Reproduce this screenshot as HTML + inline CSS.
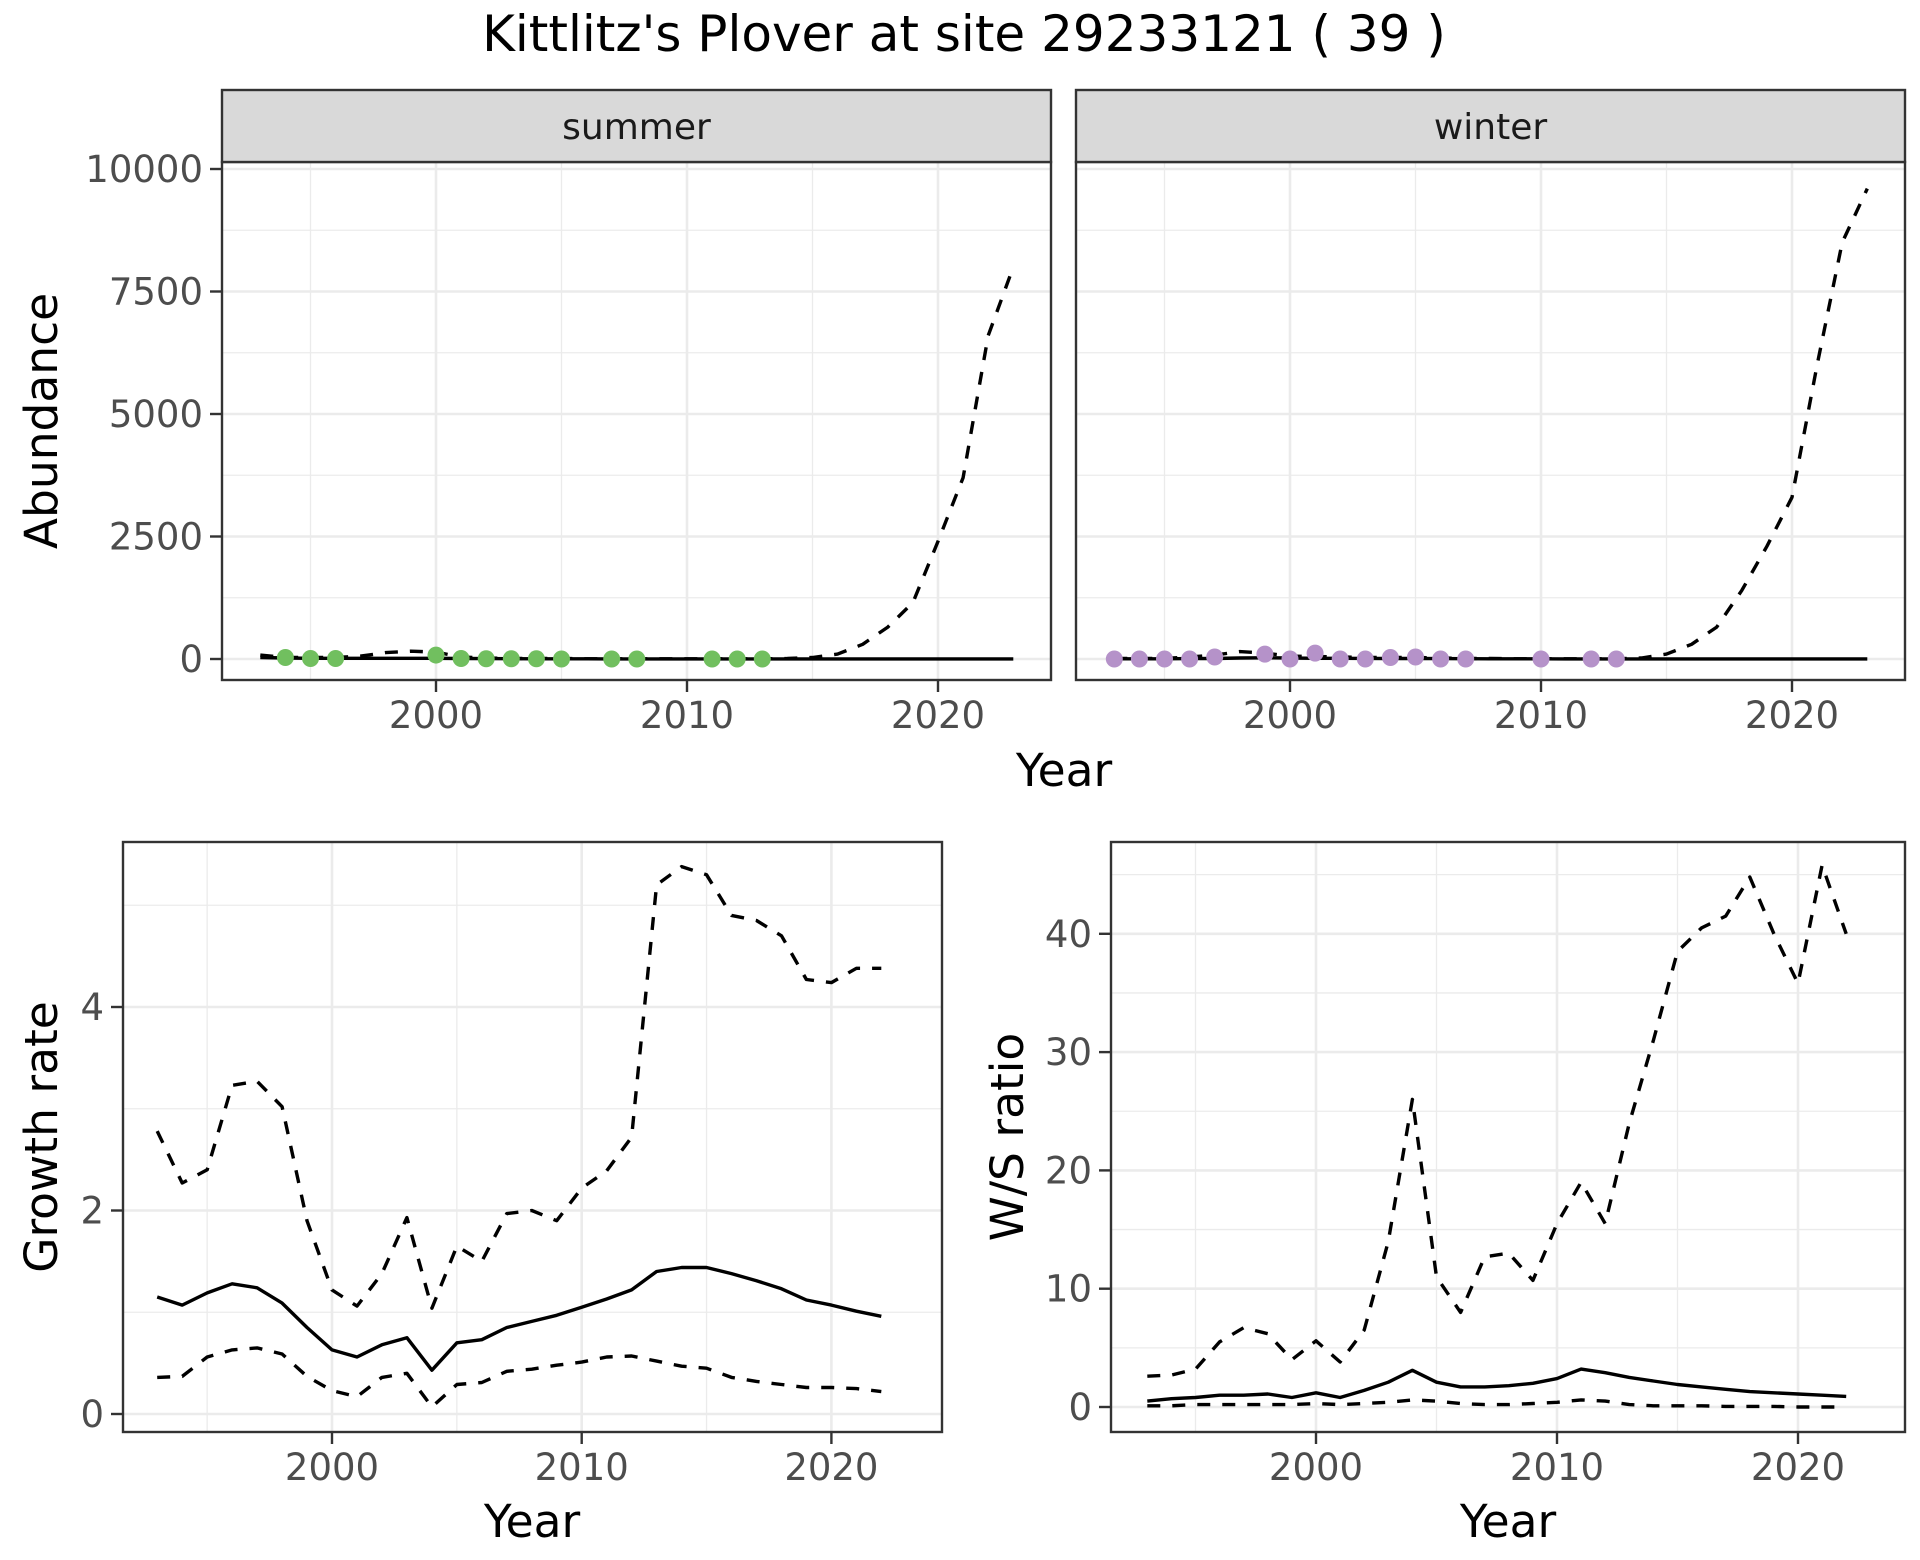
<!DOCTYPE html>
<html><head><meta charset="utf-8"><style>
html,body{margin:0;padding:0;background:#fff}
svg{display:block;font-family:"DejaVu Sans","Liberation Sans",sans-serif}
</style></head><body>
<svg id="chart" width="1920" height="1560" viewBox="0 0 1920 1560" xmlns="http://www.w3.org/2000/svg">
<text x="964" y="51" font-size="50" text-anchor="middle" fill="#000">Kittlitz's Plover at site 29233121 ( 39 )</text>
</svg>
<script>
const years30 = [1993,1994,1995,1996,1997,1998,1999,2000,2001,2002,2003,2004,2005,2006,2007,2008,2009,2010,2011,2012,2013,2014,2015,2016,2017,2018,2019,2020,2021,2022];
const abundYears = [1993,1994,1995,1996,1997,1998,1999,2000,2001,2002,2003,2004,2005,2006,2007,2008,2009,2010,2011,2012,2013,2014,2015,2016,2017,2018,2019,2020,2021,2022,2023];
const summerFit = [30,20,15,15,15,15,15,15,10,8,6,5,5,4,3,3,2,2,2,2,2,2,2,2,2,2,3,3,3,3,3];
const summerUpper = [80,30,30,30,60,130,160,140,40,20,10,10,10,5,5,5,5,5,5,5,5,10,30,100,300,650,1150,2400,3700,6600,8000];
const summerObsYears = [1994,1995,1996,2000,2001,2002,2003,2004,2005,2007,2008,2011,2012,2013];
const summerObs = [30,10,10,80,10,5,5,5,0,0,0,0,0,0];
const winterFit = [5,5,5,8,10,20,25,20,15,15,12,10,10,8,6,5,4,4,3,3,3,3,3,3,3,3,3,3,3,3,3];
const winterUpper = [10,10,10,40,80,150,120,60,50,40,30,30,30,20,10,10,5,5,5,5,5,20,100,300,650,1400,2300,3300,6000,8500,9600];
const winterObsYears = [1993,1994,1995,1996,1997,1999,2000,2001,2002,2003,2004,2005,2006,2007,2010,2012,2013];
const winterObs = [0,0,0,0,40,100,0,120,0,0,30,40,0,0,0,0,0];
const growthFit = [1.15,1.07,1.19,1.28,1.24,1.09,0.85,0.63,0.56,0.68,0.75,0.43,0.70,0.73,0.85,0.91,0.97,1.05,1.13,1.22,1.40,1.44,1.44,1.38,1.31,1.23,1.12,1.07,1.01,0.96];
const growthUpper = [2.78,2.27,2.40,3.23,3.27,3.02,1.90,1.22,1.06,1.38,1.93,1.04,1.65,1.50,1.97,2.00,1.90,2.22,2.39,2.72,5.20,5.38,5.30,4.90,4.85,4.70,4.27,4.24,4.38,4.38];
const growthLower = [0.36,0.37,0.56,0.63,0.65,0.59,0.37,0.23,0.17,0.36,0.40,0.07,0.29,0.31,0.42,0.44,0.48,0.51,0.56,0.57,0.52,0.47,0.45,0.36,0.32,0.29,0.26,0.26,0.25,0.22];
const ratioFit = [0.5,0.7,0.8,1.0,1.0,1.1,0.8,1.2,0.8,1.4,2.1,3.1,2.1,1.7,1.7,1.8,2.0,2.4,3.2,2.9,2.5,2.2,1.9,1.7,1.5,1.3,1.2,1.1,1.0,0.9];
const ratioUpper = [2.6,2.7,3.2,5.5,6.7,6.2,4.0,5.6,3.8,6.5,14,26,11,8,12.7,13,10.7,15.5,19,15.5,24,31,38.5,40.5,41.5,44.8,40,35.8,45.8,40];
const ratioLower = [0.1,0.1,0.2,0.2,0.2,0.2,0.2,0.3,0.2,0.3,0.4,0.6,0.5,0.3,0.2,0.2,0.3,0.4,0.6,0.5,0.2,0.1,0.1,0.1,0.05,0.05,0.05,0,0,0];
const xTicks = [2000,2010,2020];
const xMinor = [1995,2005,2015];
const abundTicks = [0,2500,5000,7500,10000];
const abundMinor = [1250,3750,6250,8750];
const growthTicks = [0,2,4];
const growthMinor = [1,3,5];
const ratioTicks = [0,10,20,30,40];
const ratioMinor = [5,15,25,35,45];

const NS='http://www.w3.org/2000/svg';
const svg=document.getElementById('chart');
function mk(tag,attrs,parent){const e=document.createElementNS(NS,tag);for(const k in attrs)e.setAttribute(k,attrs[k]);(parent||svg).appendChild(e);return e;}

function panel(name,L,R,T,B,x0,xpx,y0,ypx,yTicks,yMin,showY){
  const xs=v=>x0+(v-2000)*xpx, ys=v=>y0-v*ypx;
  const g=mk('g',{});
  
  
  const cl='c'+name; const cp=mk('clipPath',{id:cl},g); mk('rect',{x:L,y:T,width:R-L,height:B-T},cp);
  xMinor.forEach(v=>{const x=xs(v);if(x>L&&x<R){const l=mk('line',{x1:x,x2:x,y1:T,y2:B,stroke:'#ebebeb','stroke-width':1.3},g);}});
  yMin.forEach(v=>{const y=ys(v);if(y>T&&y<B){const l=mk('line',{x1:L,x2:R,y1:y,y2:y,stroke:'#ebebeb','stroke-width':1.3},g);}});
  xTicks.forEach(v=>{const x=xs(v);const l=mk('line',{x1:x,x2:x,y1:T,y2:B,stroke:'#ebebeb','stroke-width':2.6},g);
    const t=mk('line',{x1:x,x2:x,y1:B,y2:B+12,stroke:'#333','stroke-width':2.4},g);
    const tx=mk('text',{x:x,y:B+48,'font-size':37,'text-anchor':'middle',fill:'#4d4d4d'},g);tx.textContent=v;});
  yTicks.forEach(v=>{const y=ys(v);const l=mk('line',{x1:L,x2:R,y1:y,y2:y,stroke:'#ebebeb','stroke-width':2.6},g);
    if(showY){const t=mk('line',{x1:L-12,x2:L,y1:y,y2:y,stroke:'#333','stroke-width':2.4},g);
    const tx=mk('text',{x:L-19,y:y+13,'font-size':37,'text-anchor':'end',fill:'#4d4d4d'},g);tx.textContent=v;}});
  const dg=mk('g',{'clip-path':'url(#'+cl+')'},g);
  return {g,dg,xs,ys,L,R,T,B};
}
function line(p,xsArr,ys,dashed,name){
  const d=xsArr.map((x,i)=>(i?'L':'M')+p.xs(x).toFixed(1)+','+p.ys(ys[i]).toFixed(1)).join('');
  const a={d:d,fill:'none',stroke:'#000','stroke-width':3.4,'stroke-linejoin':'round'};
  if(dashed)a['stroke-dasharray']='13,12';
  const e=mk('path',a,p.dg);
  
  
}
function points(p,xsArr,ys,col,name){
  xsArr.forEach((x,i)=>{const c=mk('circle',{cx:p.xs(x),cy:p.ys(ys[i]),r:8.5,fill:col},p.dg);
    
    });
}
function border(p){const r=mk('rect',{x:p.L,y:p.T,width:p.R-p.L,height:p.B-p.T,fill:'none',stroke:'#333','stroke-width':2.4},p.g);}
function strip(L,R,label,name){const r=mk('rect',{x:L,y:90,width:R-L,height:72,fill:'#d9d9d9',stroke:'#333','stroke-width':2.4});
  const t=mk('text',{x:(L+R)/2,y:139,'font-size':36,'text-anchor':'middle',fill:'#1a1a1a'});t.textContent=label;}
function title(x,y,txt,rot,name){const t=mk('text',{x:x,y:y,'font-size':45.5,'text-anchor':'middle',fill:'#000',transform:rot?`rotate(-90 ${x} ${y})`:''});t.textContent=txt;}

const p1=panel('summer',222,1051,162,680,436,25.1,659,0.049,abundTicks,abundMinor,true);
line(p1,abundYears,summerUpper,true,'summer-upper-line');
line(p1,abundYears,summerFit,false,'summer-fit-line');
points(p1,summerObsYears,summerObs,'#71bf5f','summer-point');
border(p1); strip(222,1051,'summer','summer-strip');
const p2=panel('winter',1076,1905,162,680,1290,25.1,659,0.049,abundTicks,abundMinor,false);
line(p2,abundYears,winterUpper,true,'winter-upper-line');
line(p2,abundYears,winterFit,false,'winter-fit-line');
points(p2,winterObsYears,winterObs,'#b592c9','winter-point');
border(p2); strip(1076,1905,'winter','winter-strip');
title(1064,786,'Year',false,'top-x-axis-title');
title(57,421,'Abundance',true,'abundance-y-axis-title');
const p3=panel('growth',123,942,842,1432,332,24.97,1414,101.75,growthTicks,growthMinor,true);
line(p3,years30,growthUpper,true,'growth-upper-line');
line(p3,years30,growthLower,true,'growth-lower-line');
line(p3,years30,growthFit,false,'growth-fit-line');
border(p3);
title(532,1537,'Year',false,'growth-x-axis-title');
title(57,1137,'Growth rate',true,'growth-y-axis-title');
const p4=panel('ratio',1111,1905,842,1432,1316,24.1,1407,11.83,ratioTicks,ratioMinor,true);
line(p4,years30,ratioUpper,true,'ratio-upper-line');
line(p4,years30,ratioLower,true,'ratio-lower-line');
line(p4,years30,ratioFit,false,'ratio-fit-line');
border(p4);
title(1508,1537,'Year',false,'ratio-x-axis-title');
title(1023,1137,'W/S ratio',true,'ratio-y-axis-title');
</script>
</body></html>
